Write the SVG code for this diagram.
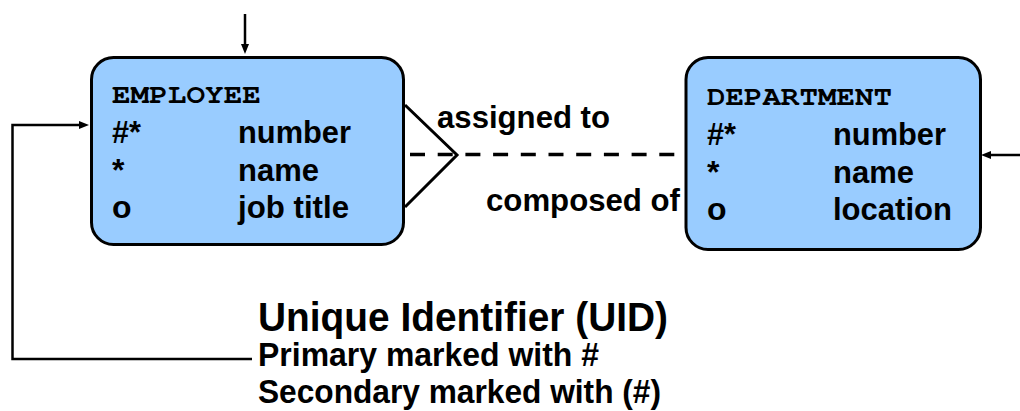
<svg xmlns="http://www.w3.org/2000/svg" width="1020" height="411" viewBox="0 0 1020 411">
  <defs>
    <style>
      .box { fill: #99CCFF; stroke: #000; stroke-width: 3; }
      .title { font-family: "Nimbus Mono PS", "Nimbus Mono L", "FreeMono", "Liberation Mono", "Courier New", monospace; font-weight: bold; font-size: 26px; fill: #000; }
      .attr { font-family: "Liberation Sans", Arial, sans-serif; font-weight: bold; font-size: 32px; fill: #000; }
      .lbl { font-family: "Liberation Sans", Arial, sans-serif; font-weight: bold; font-size: 32px; fill: #000; }
      .big { font-family: "Liberation Sans", Arial, sans-serif; font-weight: bold; font-size: 40px; fill: #000; }
      .sub { font-family: "Liberation Sans", Arial, sans-serif; font-weight: bold; font-size: 32.5px; fill: #000; }
      .line { fill: none; stroke: #000; stroke-width: 2.5; }
      .rel { fill: none; stroke: #000; stroke-width: 3; }
      .dash { fill: none; stroke: #000; stroke-width: 3.5; stroke-dasharray: 15 12.7; }
    </style>
    <marker id="ah" markerWidth="10" markerHeight="8" refX="2" refY="4" orient="auto" markerUnits="userSpaceOnUse">
      <path d="M0,0 L10,4 L0,8 z" fill="#000"/>
    </marker>
  </defs>

  <g id="connectors">
    <path class="line" d="M245,14 V46" marker-end="url(#ah)"/>
    <path class="line" d="M252,359 H12.5 V125 H81" marker-end="url(#ah)"/>
    <path class="line" d="M1020,155 H989" marker-end="url(#ah)"/>
    <g id="relationship">
      <path class="rel" d="M405,105 L457,155 L405,207"/>
      <path class="dash" d="M410,154.5 H685"/>
      <text class="lbl" x="437" y="128" textLength="173" lengthAdjust="spacingAndGlyphs">assigned to</text>
      <text class="lbl" x="486" y="211" textLength="194" lengthAdjust="spacingAndGlyphs">composed of</text>
    </g>
  </g>

  <g id="employee">
    <rect class="box" x="91.5" y="57.5" width="312" height="187" rx="22" ry="22"/>
    <text class="title" x="112" y="103" textLength="149" lengthAdjust="spacingAndGlyphs">EMPLOYEE</text>
    <text class="attr" x="112" y="143" textLength="29" lengthAdjust="spacingAndGlyphs">#*</text>
    <text class="attr" x="238" y="143" textLength="113" lengthAdjust="spacingAndGlyphs">number</text>
    <text class="attr" x="112" y="181">*</text>
    <text class="attr" x="238" y="181" textLength="81" lengthAdjust="spacingAndGlyphs">name</text>
    <text class="attr" x="112" y="218">o</text>
    <text class="attr" x="238" y="218" textLength="111" lengthAdjust="spacingAndGlyphs">job title</text>
  </g>

  <g id="department">
    <rect class="box" x="686" y="57.5" width="294.5" height="192" rx="22" ry="22"/>
    <text class="title" x="707" y="105" textLength="185" lengthAdjust="spacingAndGlyphs">DEPARTMENT</text>
    <text class="attr" x="707" y="145" textLength="29" lengthAdjust="spacingAndGlyphs">#*</text>
    <text class="attr" x="833" y="145" textLength="113" lengthAdjust="spacingAndGlyphs">number</text>
    <text class="attr" x="707" y="183">*</text>
    <text class="attr" x="833" y="183" textLength="81" lengthAdjust="spacingAndGlyphs">name</text>
    <text class="attr" x="707" y="220">o</text>
    <text class="attr" x="833" y="220" textLength="119" lengthAdjust="spacingAndGlyphs">location</text>
  </g>

  <g id="uid">
    <text class="big" x="258" y="331" textLength="410" lengthAdjust="spacingAndGlyphs">Unique Identifier (UID)</text>
    <text class="sub" x="258" y="366" textLength="341" lengthAdjust="spacingAndGlyphs">Primary marked with #</text>
    <text class="sub" x="258" y="403" textLength="403" lengthAdjust="spacingAndGlyphs">Secondary marked with (#)</text>
  </g>
</svg>
